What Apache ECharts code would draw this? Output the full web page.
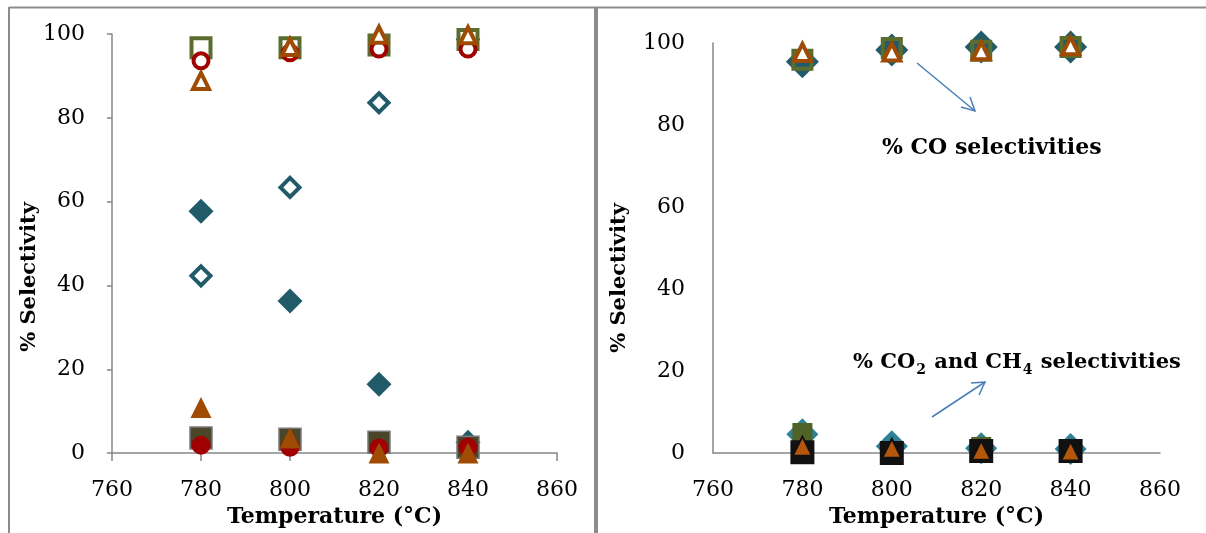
<!DOCTYPE html>
<html>
<head>
<meta charset="utf-8">
<script src="https://cdn.jsdelivr.net/npm/echarts@6/dist/echarts.min.js"></script>
<style>
html,body{margin:0;padding:0;background:#fff;}
#c{width:1206px;height:533px;}
</style>
</head>
<body>
<div id="c"></div>
<script>
// ---- data ----
const temps = [780, 800, 820, 840];
const xTicks = [760, 780, 800, 820, 840, 860];
const yTicks = [0, 20, 40, 60, 80, 100];

// left panel
const leftHollowDiamond = [42.3, 63.4, 83.6, 98.7];
const leftFilledDiamond = [57.7, 36.3, 16.4, 2.6];
const leftHollowSquare = [96.7, 96.7, 97.4, 98.7];
const leftFilledSquare = [3.6, 3.3, 2.6, 1.4];
const leftHollowCircle = [93.6, 95.5, 96.4, 96.4];
const leftFilledCircle = [1.9, 1.4, 1.2, 1.4];
const leftHollowTriangle = [88.8, 96.9, 99.8, 99.7];
const leftFilledTriangle = [10.9, 3.6, 0.0, 0.0];

// right panel
const rightCODiamond = [95.4, 98.3, 99.0, 99.0];
const rightCOSquare = [95.9, 98.8, 98.1, 99.0];
const rightCOTriangle = [97.7, 97.8, 98.1, 99.3];
const rightCO2Diamond = [4.6, 1.7, 1.2, 1.0];
const rightCO2Square = [4.9, 0.3, 1.5, 0.5];
const rightCH4Square = [0.2, 0.0, 0.5, 0.5];
const rightCH4Triangle = [1.7, 1.2, 0.7, 0.5];

const xTitle = 'Temperature (°C)';
const yTitle = '% Selectivity';

// ---- chart ----
const font = 'DejaVu Serif';
const pts = arr => temps.map((t, i) => [t, arr[i]]);

function sc(name, idx, data, symbol, size, fill, border, bw, z) {
  return {
    type: 'scatter', name: name, xAxisIndex: idx, yAxisIndex: idx,
    data: pts(data), symbol: symbol, symbolSize: size, clip: false,
    z: z || 2,
    itemStyle: { color: fill, borderColor: border, borderWidth: bw, opacity: 1 },
    emphasis: { disabled: true }
  };
}

const axisGray = '#878787';
function xAx(idx, ticks) {
  return {
    type: 'value', gridIndex: idx, min: 760, max: 860, interval: 20,
    name: xTitle, nameLocation: 'middle', nameGap: 49,
    nameTextStyle: { fontFamily: font, fontWeight: 'bold', fontSize: 22, color: '#000' },
    axisLine: { show: true, onZero: false, lineStyle: { color: axisGray, width: 1.5 } },
    axisTick: { show: ticks, length: 8, lineStyle: { color: axisGray, width: 1.5 } },
    axisLabel: { fontFamily: font, fontSize: 22, color: '#000', margin: 26 },
    splitLine: { show: false }
  };
}
function yAx(idx, ticks) {
  return {
    type: 'value', gridIndex: idx, min: 0, max: 100, interval: 20,
    axisLine: { show: true, lineStyle: { color: axisGray, width: 1.5 } },
    axisTick: { show: ticks, length: 5, lineStyle: { color: axisGray, width: 1.5 } },
    axisLabel: { fontFamily: font, fontSize: 22, color: '#000', margin: ticks ? 27 : 28 },
    splitLine: { show: false }
  };
}

const teal = '#215b69';
const green = '#5a6d2e';
const red = '#a00000';
const orange = '#a04b04';

const option = {
  animation: false,
  backgroundColor: '#fff',
  grid: [
    { left: 112, right: 649, top: 34, bottom: 78 },
    { left: 713, right: 46, top: 43, bottom: 78 }
  ],
  xAxis: [xAx(0, true), xAx(1, false)],
  yAxis: [yAx(0, true), yAx(1, false)],
  series: [
    // left
    sc('A hollow diamond', 0, leftHollowDiamond, 'diamond', 19, '#fff', teal, 4),
    sc('A filled diamond', 0, leftFilledDiamond, 'diamond', 25, teal, teal, 0),
    sc('A hollow square', 0, leftHollowSquare, 'rect', 19, '#fff', green, 4),
    sc('A filled square', 0, leftFilledSquare, 'rect', 22, '#4b4529', '#7a7a7a', 1.5),
    sc('A hollow circle', 0, leftHollowCircle, 'circle', 15, '#fff', red, 4),
    sc('A filled circle', 0, leftFilledCircle, 'circle', 19, red, red, 0),
    sc('A hollow triangle', 0, leftHollowTriangle, 'triangle', 16, '#fff', orange, 4),
    sc('A filled triangle', 0, leftFilledTriangle, 'triangle', 21, orange, orange, 0),
    // right
    sc('CO diamond', 1, rightCODiamond, 'diamond', 33, teal, teal, 0),
    sc('CO square', 1, rightCOSquare, 'rect', 18, 'rgba(255,255,255,0)', green, 4),
    sc('CO triangle', 1, rightCOTriangle, 'triangle', 17, '#fff', orange, 4),
    sc('CO2 diamond', 1, rightCO2Diamond, 'diamond', 32, '#2f8196', '#2f8196', 0),
    sc('CO2 square', 1, rightCO2Square, 'rect', 20, '#4f6228', '#4f6228', 0),
    sc('CH4 square', 1, rightCH4Square, 'rect', 20, '#111', '#111', 4),
    sc('CH4 triangle', 1, rightCH4Triangle, 'triangle', 19, '#b5570a', '#111', 2)
  ],
  graphic: [
    // panel borders
    { type: 'line', shape: { x1: 9, y1: 7.5, x2: 1206, y2: 7.5 }, style: { stroke: '#8c8c8c', lineWidth: 1.8 }, silent: true },
    { type: 'line', shape: { x1: 9, y1: 7, x2: 9, y2: 533 }, style: { stroke: '#8c8c8c', lineWidth: 2 }, silent: true },
    { type: 'line', shape: { x1: 596, y1: 7, x2: 596, y2: 533 }, style: { stroke: '#8c8c8c', lineWidth: 4 }, silent: true },
    // y titles
    { type: 'text', x: 30, y: 277, rotation: Math.PI / 2, silent: true,
      style: { text: yTitle, fontFamily: font, fontWeight: 'bold', fontSize: 21, fill: '#000', align: 'center', verticalAlign: 'middle' } },
    { type: 'text', x: 620, y: 278, rotation: Math.PI / 2, silent: true,
      style: { text: yTitle, fontFamily: font, fontWeight: 'bold', fontSize: 21, fill: '#000', align: 'center', verticalAlign: 'middle' } },
    // annotations
    { type: 'text', x: 882, y: 148, silent: true,
      style: { text: '% CO selectivities', fontFamily: font, fontWeight: 'bold', fontSize: 22, fill: '#000', align: 'left', verticalAlign: 'middle' } },
    { type: 'text', x: 853, y: 364, silent: true,
      style: {
        text: '{m|% CO}{s|2}{m| and CH}{s|4}{m| selectivities}',
        fontFamily: font, fontWeight: 'bold', fontSize: 21, fill: '#000', align: 'left', verticalAlign: 'middle',
        rich: {
          m: { fontFamily: font, fontWeight: 'bold', fontSize: 21, fill: '#000', lineHeight: 27, verticalAlign: 'bottom', padding: [0, 0, 4, 0] },
          s: { fontFamily: font, fontWeight: 'bold', fontSize: 14, fill: '#000', lineHeight: 15, verticalAlign: 'bottom', padding: [0, 1, 0, 1] }
        }
      } },
    // arrows
    { type: 'line', shape: { x1: 917, y1: 63, x2: 975, y2: 111 }, style: { stroke: '#4a7ebb', lineWidth: 1.5 }, silent: true },
    { type: 'polyline', shape: { points: [[961, 107], [975, 111], [970, 97]] }, style: { stroke: '#4a7ebb', lineWidth: 1.5, fill: null }, silent: true },
    { type: 'line', shape: { x1: 932, y1: 417, x2: 985, y2: 382 }, style: { stroke: '#4a7ebb', lineWidth: 1.5 }, silent: true },
    { type: 'polyline', shape: { points: [[971, 383], [985, 382], [979, 395]] }, style: { stroke: '#4a7ebb', lineWidth: 1.5, fill: null }, silent: true }
  ]
};

const chart = echarts.init(document.getElementById('c'), null, { renderer: 'canvas' });
chart.setOption(option);
</script>
</body>
</html>
